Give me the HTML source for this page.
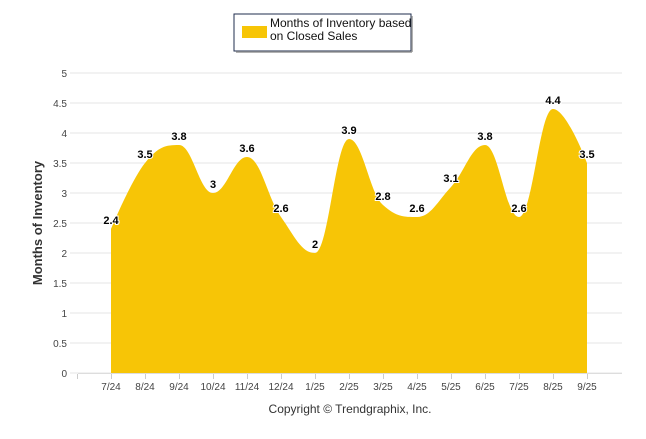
<!DOCTYPE html>
<html><head><meta charset="utf-8"><style>
body{margin:0;background:#fff;width:646px;height:434px;overflow:hidden}
text{font-family:"Liberation Sans",sans-serif}
</style></head><body>
<svg id="s" width="646" height="434" xmlns="http://www.w3.org/2000/svg">
<rect x="234" y="14" width="177" height="37" fill="#fff" stroke="#1f2d4d" stroke-width="1"/>
<line x1="236" y1="52" x2="412" y2="52" stroke="#999" stroke-width="1.5"/>
<line x1="412" y1="16" x2="412" y2="52" stroke="#999" stroke-width="1.5"/>
<rect x="242" y="26" width="25" height="12" fill="#f7c506"/>
<text x="270" y="27" font-size="12" fill="#111">Months of Inventory based</text>
<text x="270" y="40" font-size="12" fill="#111">on Closed Sales</text>
<g id="grid"></g>
<path id="area" fill="#f7c506"/>
<g id="lbl"></g>
<text transform="translate(42,223) rotate(-90)" text-anchor="middle" font-size="13" font-weight="bold" fill="#333">Months of Inventory</text>
<text x="350" y="413" text-anchor="middle" font-size="12" fill="#333">Copyright © Trendgraphix, Inc.</text>
</svg>
<script>
var v=[2.4,3.5,3.8,3,3.6,2.6,2,3.9,2.8,2.6,3.1,3.8,2.6,4.4,3.5];
var c=["7/24","8/24","9/24","10/24","11/24","12/24","1/25","2/25","3/25","4/25","5/25","6/25","7/25","8/25","9/25"];
var X=i=>111+34*i, Y=y=>373-60*y;
var g='',ns='';
for(var k=0;k<=10;k++){var y=Y(k/2);g+='<line x1="70" x2="622" y1="'+y+'" y2="'+y+'" stroke="#e6e6e6"/>';g+='<text x="67" y="'+(y+4)+'" text-anchor="end" font-size="10" fill="#444">'+(k/2)+'</text>';}
g+='<line x1="78" x2="622" y1="373.5" y2="373.5" stroke="#ddd"/>';
for(var i=-1;i<15;i++){g+='<line x1="'+(X(i)+.5)+'" x2="'+(X(i)+.5)+'" y1="374" y2="379" stroke="#ccc"/>';}
for(var i=0;i<15;i++){g+='<text x="'+X(i)+'" y="390" text-anchor="middle" font-size="10" fill="#444">'+c[i]+'</text>';}
document.getElementById('grid').innerHTML=g;
var p=v.map((y,i)=>[X(i),Y(y)]);
var d='M'+p[0][0]+','+373+'L'+p[0][0]+','+p[0][1];
var sm=1.5,den=2.5;
function ctrl(i){
 var a=p[i-1],b=p[i],n=p[i+1];
 var lx=(sm*b[0]+a[0])/den,ly=(sm*b[1]+a[1])/den,rx=(sm*b[0]+n[0])/den,ry=(sm*b[1]+n[1])/den;
 var cor=0;if(rx!==lx)cor=((ry-ly)*(rx-b[0]))/(rx-lx)+b[1]-ry;
 ly+=cor;ry+=cor;
 if(ly>a[1]&&ly>b[1]){ly=Math.max(a[1],b[1]);ry=2*b[1]-ly;}else if(ly<a[1]&&ly<b[1]){ly=Math.min(a[1],b[1]);ry=2*b[1]-ly;}
 if(ry>n[1]&&ry>b[1]){ry=Math.max(n[1],b[1]);ly=2*b[1]-ry;}else if(ry<n[1]&&ry<b[1]){ry=Math.min(n[1],b[1]);ly=2*b[1]-ry;}
 return [lx,ly,rx,ry];
}
var C=[null];for(var i=1;i<14;i++)C.push(ctrl(i));C.push(null);
for(var i=1;i<15;i++){
 var a=p[i-1],b=p[i];
 var c1=C[i-1]?[C[i-1][2],C[i-1][3]]:a;
 var c2=C[i]?[C[i][0],C[i][1]]:b;
 d+='C'+c1[0]+','+c1[1]+' '+c2[0]+','+c2[1]+' '+b[0]+','+b[1];
}
d+='L'+p[14][0]+',373Z';
document.getElementById('area').setAttribute('d',d);
var l='';
for(var i=0;i<15;i++){l+='<text x="'+X(i)+'" y="'+(Y(v[i])-5)+'" text-anchor="middle" font-size="11" font-weight="bold" fill="#000" stroke="#fff" stroke-width="2" paint-order="stroke">'+v[i]+'</text>';}
document.getElementById('lbl').innerHTML=l;
</script>
</body></html>
